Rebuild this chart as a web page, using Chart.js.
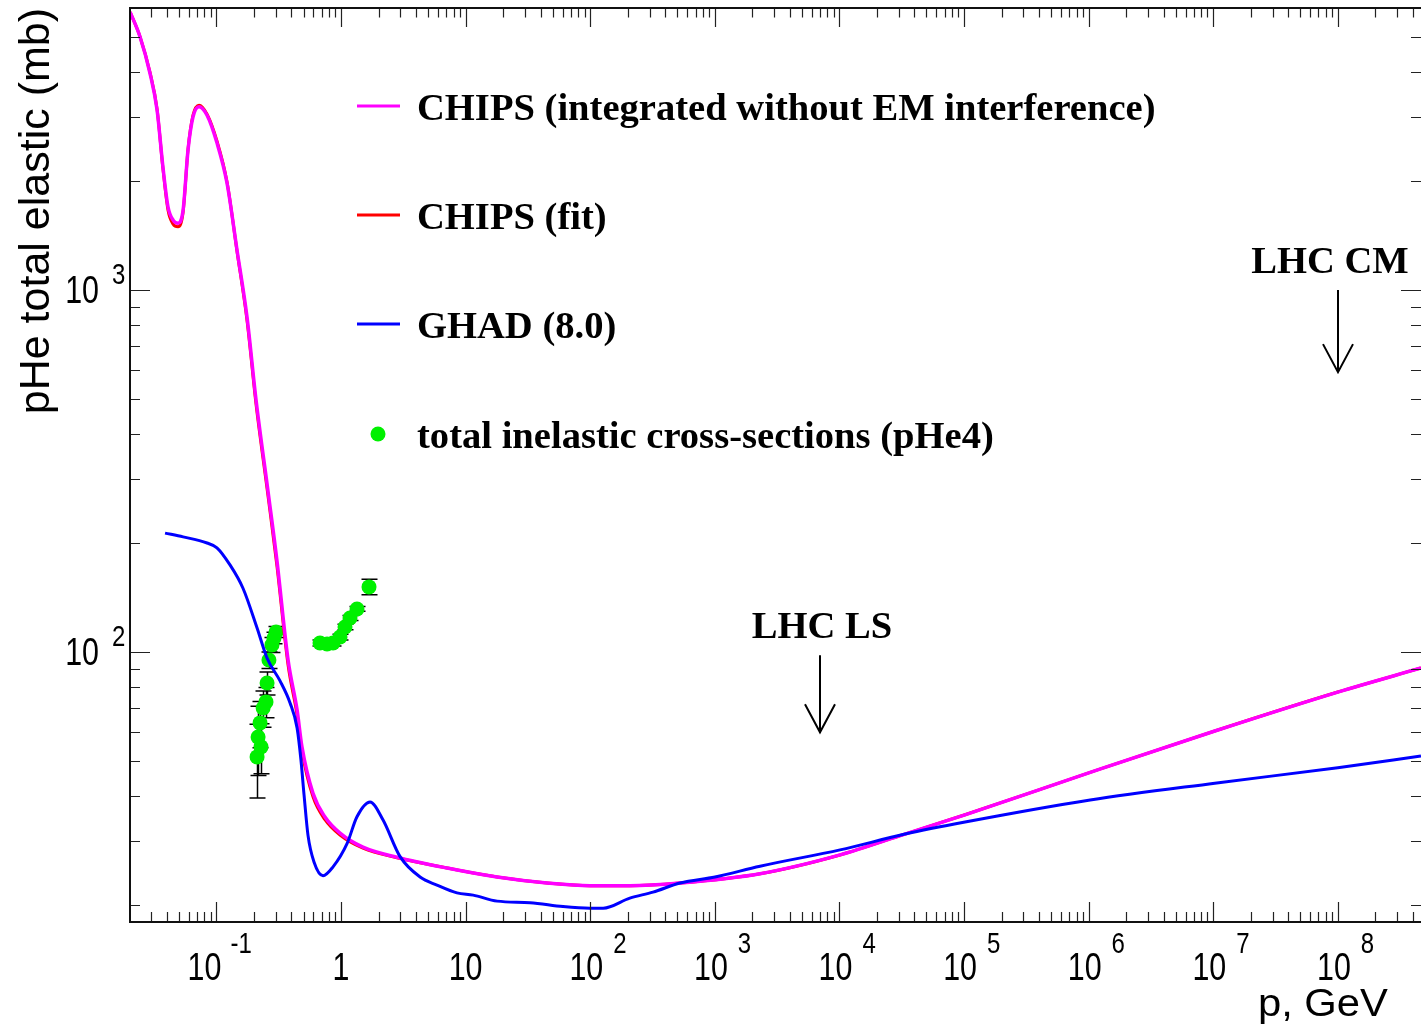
<!DOCTYPE html>
<html>
<head>
<meta charset="utf-8">
<title>pHe total elastic cross-section</title>
<script src="https://cdn.jsdelivr.net/npm/chart.js@4.4.0/dist/chart.umd.min.js"></script>
<style>
  html, body { margin: 0; padding: 0; background: #fff; }
  #wrap { position: relative; width: 1421px; height: 1029px; }
</style>
</head>
<body>
<div id="wrap"><canvas id="xs-chart"></canvas></div>
<script>
'use strict';

// CHIPS, integrated without EM interference (p in GeV, sigma in mb)
const chipsP = [0.0203, 0.0244, 0.0293, 0.0334, 0.0372, 0.0409, 0.0449, 0.0492, 0.054, 0.0592,
  0.0649, 0.0725, 0.0841, 0.101, 0.1216, 0.1463, 0.176, 0.208, 0.2595, 0.306, 0.376, 0.444,
  0.486, 0.596, 0.744, 0.982, 1.5, 2.81, 7.1, 17.9, 45, 99.6, 208, 526, 2306, 10120, 33600,
  101800, 1.03e6, 1.03e7, 1.0e8, 4.65e8];
const chipsSigma = [5860, 5000, 3970, 3140, 2190, 1695, 1560, 1530, 1660, 2440,
  3010, 3210, 3040, 2550, 1975, 1290, 842, 497, 278, 179, 95.0, 69.2,
  54.7, 40.7, 35.0, 31.6, 28.9, 27.1, 25.3, 23.9, 23.0, 22.6, 22.6, 23.0, 24.4, 27.5, 31.4,
  35.5, 46.5, 60.5, 77.5, 90.3];

// CHIPS fit
const fitP = [0.0203, 0.0244, 0.0293, 0.0334, 0.0372, 0.0409, 0.0449, 0.0492, 0.054, 0.0592,
  0.0649, 0.0725, 0.0841, 0.101, 0.1216, 0.1463, 0.176, 0.208, 0.2595, 0.306, 0.376, 0.444,
  0.486, 0.596, 0.744, 0.982, 1.5, 2.81, 7.1, 17.9, 45, 99.6, 208, 526, 2306, 10120, 33600,
  101800, 1.03e6, 1.03e7, 1.0e8, 4.65e8];
const fitSigma = [5860, 5000, 3990, 3160, 2170, 1660, 1520, 1495, 1640, 2450,
  3040, 3240, 3060, 2580, 1990, 1280, 825, 484, 270, 173, 92.0, 67.0,
  53.2, 39.8, 34.4, 31.2, 28.7, 27.0, 25.3, 23.9, 23.0, 22.6, 22.6, 23.0, 24.4, 27.5, 31.4,
  35.5, 46.5, 60.5, 77.5, 90.3];

// GHAD (8.0)
const ghadP = [0.0387, 0.054, 0.0841, 0.101, 0.1285, 0.1634, 0.212, 0.255, 0.324, 0.39,
  0.444, 0.477, 0.505, 0.543, 0.607, 0.717, 0.863, 1.12, 1.34, 1.71, 2.17, 2.98, 4.31,
  5.89, 8.53, 11.5, 17.9, 32.9, 60.5, 99.6, 127, 208, 319, 526, 1004, 2306, 10120, 33600,
  1.02e5, 1.03e6, 1.03e7, 1.0e8, 4.65e8];
const ghadSigma = [213, 208, 200, 194, 174, 150, 116.5, 96.2, 83.2, 72.3,
  61.7, 50.3, 40.3, 31.2, 26.3, 24.1, 25.5, 29.6, 35.0, 38.5, 34.4, 27.2, 23.9,
  22.7, 21.6, 21.3, 20.5, 20.3, 19.8, 19.6, 19.6, 20.9, 21.7, 23.0, 23.9, 25.6, 28.4, 31.4,
  33.9, 39.0, 43.4, 47.9, 51.6];

// measured total inelastic cross-sections, pHe4
const dataP = [0.212, 0.216, 0.228, 0.224, 0.237, 0.250, 0.255, 0.264, 0.279, 0.290, 0.301,
  0.678, 0.773, 0.863, 0.982, 1.077, 1.181, 1.344, 1.678];
const dataSigma = [51.3, 58.2, 54.7, 63.7, 70.0, 72.8, 82.1, 95.0, 104.6, 109.3, 113.6,
  105.9, 105.2, 105.9, 110.0, 117.2, 124.1, 131.5, 151.3];
const dataErr = [11.8, 12.6, 8.6, 9.3, 8, 7, 6, 5, 5, 4, 4,
  2, 2, 2, 2, 2, 2, 2, 7.5];

// axis decades that carry a label
const xDecades = [-1, 0, 1, 2, 3, 4, 5, 6, 7, 8];
const yDecades = [2, 3];
const xRange = [0.02025, 4.654e8];
const yRange = [17.95, 6012];

const legendLabels = [
  'CHIPS (integrated without EM interference)',
  'CHIPS (fit)',
  'GHAD (8.0)',
  'total inelastic cross-sections (pHe4)'
];

// beam momentum markers: label, p (GeV), arrow from / to (mb)
const markerNames = ['LHC LS', 'LHC CM'];
const markerP = [7000, 1.0e8];
const markerTop = [98, 1000];
const markerBottom = [60, 593];

const MAGENTA = '#ff00ff';
const RED = '#ff0000';
const BLUE = '#0000ff';
const GREEN = '#00f000';

function toPoints(xs, ys) {
  return xs.map((x, i) => ({ x: x, y: ys[i] }));
}

function drawScaled(ctx, text, x, y, font, sx, align) {
  ctx.font = font;
  const w = ctx.measureText(text).width * sx;
  const left = align === 'right' ? x - w : align === 'center' ? x - w / 2 : x;
  ctx.save();
  ctx.translate(left, y);
  ctx.scale(sx, 1);
  ctx.textAlign = 'left';
  ctx.textBaseline = 'alphabetic';
  ctx.fillText(text, 0, 0);
  ctx.restore();
  return w;
}

function logTicks(lo, hi) {
  const out = [];
  for (let e = Math.floor(Math.log10(lo)); e <= Math.ceil(Math.log10(hi)); e++) {
    for (let m = 1; m <= 9; m++) {
      const v = m * Math.pow(10, e);
      if (v >= lo && v <= hi) out.push({ v: v, major: m === 1 });
    }
  }
  return out;
}

// error bars go under the markers
const errorBars = {
  id: 'errorBars',
  beforeDatasetsDraw(chart) {
    const ctx = chart.ctx;
    const xs = chart.scales.x, ys = chart.scales.y;
    ctx.save();
    ctx.strokeStyle = '#000';
    ctx.lineWidth = 1.5;
    dataP.forEach((p, i) => {
      const px = Math.round(xs.getPixelForValue(p)) + 0.5;
      const lo = ys.getPixelForValue(dataSigma[i] - dataErr[i]);
      const hi = ys.getPixelForValue(dataSigma[i] + dataErr[i]);
      ctx.beginPath();
      ctx.moveTo(px, lo); ctx.lineTo(px, hi);
      ctx.moveTo(px - 8, lo); ctx.lineTo(px + 8, lo);
      ctx.moveTo(px - 8, hi); ctx.lineTo(px + 8, hi);
      ctx.stroke();
    });
    ctx.restore();
  }
};

// frame, ticks, labels, legend and beam markers
const rootFrame = {
  id: 'rootFrame',
  afterDraw(chart) {
    const ctx = chart.ctx;
    const a = chart.chartArea;
    const xs = chart.scales.x, ys = chart.scales.y;
    const tickFont = '38px "Liberation Sans", Arial, sans-serif';
    const supFont = '30px "Liberation Sans", Arial, sans-serif';
    const squeeze = 0.8;

    ctx.save();
    ctx.strokeStyle = '#222';
    ctx.lineWidth = 1.2;

    // x ticks, bottom and top, pointing inwards
    ctx.beginPath();
    logTicks(xRange[0], xRange[1]).forEach(t => {
      const px = Math.round(xs.getPixelForValue(t.v)) + 0.5;
      ctx.moveTo(px, a.bottom); ctx.lineTo(px, a.bottom - (t.major ? 20 : 10));
      ctx.moveTo(px, a.top); ctx.lineTo(px, a.top + (t.major ? 19 : 9.5));
    });
    // y ticks, left and right
    logTicks(yRange[0], yRange[1]).forEach(t => {
      const py = Math.round(ys.getPixelForValue(t.v)) + 0.5;
      ctx.moveTo(a.left, py); ctx.lineTo(a.left + (t.major ? 20 : 10), py);
      ctx.moveTo(a.right, py); ctx.lineTo(a.right - (t.major ? 20 : 10), py);
    });
    ctx.stroke();

    // frame: left, bottom and top edges
    ctx.strokeStyle = '#111';
    ctx.lineWidth = 2;
    ctx.beginPath();
    ctx.moveTo(a.right, a.top);
    ctx.lineTo(a.left, a.top);
    ctx.lineTo(a.left, a.bottom);
    ctx.lineTo(a.right, a.bottom);
    ctx.stroke();

    // x tick labels
    ctx.fillStyle = '#000';
    xDecades.forEach(e => {
      const px = xs.getPixelForValue(Math.pow(10, e));
      if (e === 0) {
        drawScaled(ctx, '1', px, 980, tickFont, squeeze, 'center');
      } else if (e === 1) {
        drawScaled(ctx, '10', px, 980, tickFont, squeeze, 'center');
      } else if (e < 0) {
        drawScaled(ctx, '10', px + 5, 980, tickFont, squeeze, 'right');
        drawScaled(ctx, String(e), px + 14, 953, supFont, squeeze, 'left');
      } else {
        drawScaled(ctx, '10', px + 13, 980, tickFont, squeeze, 'right');
        drawScaled(ctx, String(e), px + 23, 953, supFont, squeeze, 'left');
      }
    });

    // y tick labels
    yDecades.forEach(e => {
      const py = ys.getPixelForValue(Math.pow(10, e));
      drawScaled(ctx, '10', 99, py + 13, tickFont, squeeze, 'right');
      drawScaled(ctx, String(e), 112, py - 6, supFont, squeeze, 'left');
    });

    // axis titles
    drawScaled(ctx, 'p, GeV', 1388, 1016, '38px "Liberation Sans", Arial, sans-serif', 1.1, 'right');
    ctx.save();
    ctx.translate(49, a.top);
    ctx.rotate(-Math.PI / 2);
    ctx.font = '43px "Liberation Sans", Arial, sans-serif';
    ctx.textAlign = 'right';
    ctx.textBaseline = 'alphabetic';
    ctx.fillText('pHe total elastic (mb)', 0, 0);
    ctx.restore();

    // legend
    const rows = [106, 215, 324, 434];
    const colors = [MAGENTA, RED, BLUE, GREEN];
    ctx.font = 'bold 38.6px "Liberation Serif", "Times New Roman", serif';
    ctx.textAlign = 'left';
    ctx.textBaseline = 'alphabetic';
    legendLabels.forEach((label, i) => {
      const y = rows[i];
      if (i < 3) {
        ctx.strokeStyle = colors[i];
        ctx.lineWidth = 3;
        ctx.beginPath();
        ctx.moveTo(357, y); ctx.lineTo(400, y);
        ctx.stroke();
      } else {
        ctx.fillStyle = colors[i];
        ctx.beginPath();
        ctx.arc(378, y, 7.5, 0, Math.PI * 2);
        ctx.fill();
      }
      ctx.fillStyle = '#000';
      ctx.fillText(label, 417, y + 14);
    });

    // beam momentum arrows
    const textShift = [2, -8];
    ctx.strokeStyle = '#000';
    ctx.lineWidth = 2;
    ctx.textAlign = 'center';
    markerNames.forEach((name, i) => {
      const px = Math.round(xs.getPixelForValue(markerP[i]));
      const top = ys.getPixelForValue(markerTop[i]);
      const bot = ys.getPixelForValue(markerBottom[i]);
      ctx.beginPath();
      ctx.moveTo(px, top); ctx.lineTo(px, bot);
      ctx.moveTo(px - 15, bot - 28); ctx.lineTo(px, bot); ctx.lineTo(px + 15, bot - 28);
      ctx.stroke();
      ctx.fillText(name, px + textShift[i], top - 17);
    });
    ctx.restore();
  }
};

const chart = new Chart(document.getElementById('xs-chart'), {
  type: 'line',
  data: {
    datasets: [
      {
        label: 'GHAD (8.0)',
        data: toPoints(ghadP, ghadSigma),
        borderColor: BLUE,
        borderWidth: 3,
        cubicInterpolationMode: 'monotone',
        pointRadius: 0
      },
      {
        label: 'CHIPS (integrated without EM interference)',
        data: toPoints(chipsP, chipsSigma),
        borderColor: MAGENTA,
        borderWidth: 3.5,
        cubicInterpolationMode: 'monotone',
        pointRadius: 0
      },
      {
        label: 'CHIPS (fit)',
        data: toPoints(fitP, fitSigma),
        borderColor: RED,
        borderWidth: 3,
        cubicInterpolationMode: 'monotone',
        pointRadius: 0
      },
      {
        label: 'total inelastic cross-sections (pHe4)',
        data: toPoints(dataP, dataSigma),
        showLine: false,
        pointRadius: 7.5,
        pointBackgroundColor: GREEN,
        pointBorderWidth: 0,
        borderColor: GREEN
      }
    ]
  },
  options: {
    responsive: true,
    maintainAspectRatio: false,
    animation: false,
    layout: { autoPadding: false, padding: { left: 130, top: 8, right: 0, bottom: 107 } },
    plugins: {
      legend: { display: false },
      tooltip: { enabled: false }
    },
    scales: {
      x: { type: 'logarithmic', min: xRange[0], max: xRange[1], display: false },
      y: { type: 'logarithmic', min: yRange[0], max: yRange[1], display: false }
    }
  },
  plugins: [errorBars, rootFrame]
});
</script>
</body>
</html>
